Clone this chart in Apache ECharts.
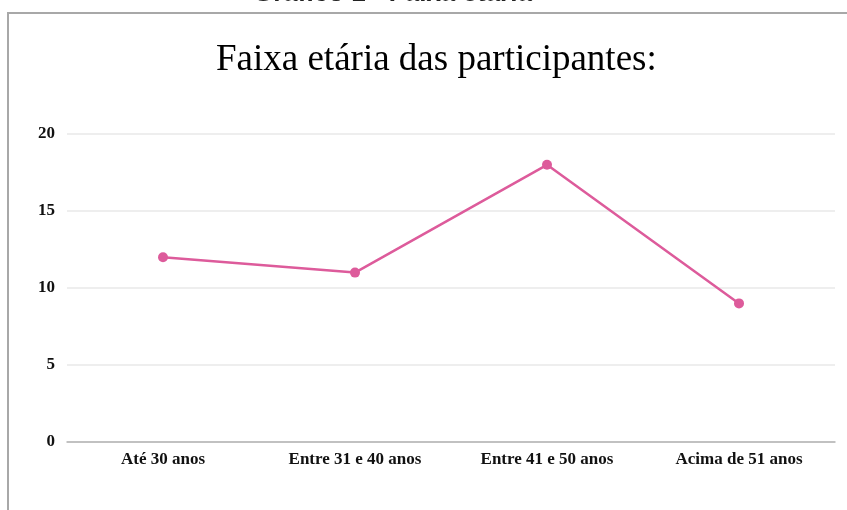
<!DOCTYPE html>
<html>
<head>
<meta charset="utf-8">
<script src="https://cdn.jsdelivr.net/npm/echarts@6/dist/echarts.min.js"></script>
<style>
  html, body { margin: 0; padding: 0; background: #fff; }
  #main { width: 847px; height: 510px; }
</style>
</head>
<body>
<div id="main"></div>
<script>
var categories = ["Até 30 anos", "Entre 31 e 40 anos", "Entre 41 e 50 anos", "Acima de 51 anos"];
var participantes = [12, 11, 18, 9];
var yTicks = { min: 0, max: 20, interval: 5 };

var chart = echarts.init(document.getElementById("main"));

var option = {
  backgroundColor: "#fff",
  title: {
    text: "Faixa etária das participantes:",
    left: 211,
    top: 37,
    textStyle: {
      fontFamily: "Liberation Serif",
      fontWeight: "normal",
      fontSize: 37,
      color: "#000"
    }
  },
  graphic: [
    {
      type: "text",
      x: 253,
      y: -19,
      style: {
        text: "Gráfico 1 - Faixa etária",
        font: "bold 26px 'Liberation Sans'",
        fill: "#222"
      }
    },
    {
      type: "polyline",
      shape: { points: [[8, 510], [8, 13], [847, 13]] },
      style: { stroke: "#a8a8a8", lineWidth: 2, fill: null }
    }
  ],
  grid: {
    left: 67,
    right: 12,
    top: 134,
    bottom: 68
  },
  xAxis: {
    type: "category",
    data: categories,
    axisTick: { show: false },
    axisLine: { lineStyle: { color: "#b3b3b3", width: 1.5 } },
    axisLabel: {
      margin: 9,
      fontFamily: "Liberation Serif",
      fontWeight: "bold",
      fontSize: 17,
      color: "#111"
    }
  },
  yAxis: {
    type: "value",
    min: yTicks.min,
    max: yTicks.max,
    interval: yTicks.interval,
    axisLine: { show: false },
    axisTick: { show: false },
    splitLine: { lineStyle: { color: "#e8e8e8", width: 1.5 } },
    axisLabel: {
      margin: 12,
      fontFamily: "Liberation Serif",
      fontWeight: "bold",
      fontSize: 17,
      color: "#111"
    }
  },
  series: [
    {
      type: "line",
      data: participantes,
      color: "#dd5b9b",
      symbol: "circle",
      symbolSize: 10,
      lineStyle: { width: 2.5 },
      itemStyle: { color: "#dd5b9b" }
    }
  ]
};

chart.setOption(option);
</script>
</body>
</html>
